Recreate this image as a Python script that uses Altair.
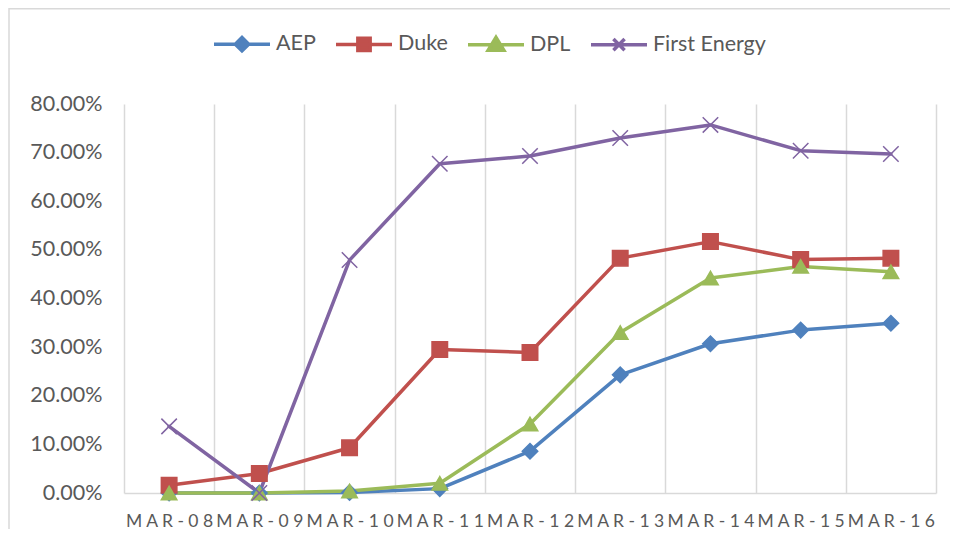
import altair as alt
import pandas as pd

dates = ["MAR-08", "MAR-09", "MAR-10", "MAR-11", "MAR-12", "MAR-13", "MAR-14", "MAR-15", "MAR-16"]
series_names = ["AEP", "Duke", "DPL", "First Energy"]
aep = [0.0, 0.0, 0.001, 0.009, 0.086, 0.243, 0.307, 0.335, 0.349]
duke = [0.016, 0.040, 0.093, 0.295, 0.289, 0.483, 0.517, 0.480, 0.483]
dpl = [0.0, 0.0, 0.004, 0.020, 0.142, 0.330, 0.442, 0.466, 0.455]
first_energy = [0.137, 0.0, 0.479, 0.677, 0.693, 0.730, 0.757, 0.704, 0.697]
colors = ["#4F81BD", "#C0504D", "#9BBB59", "#8064A2"]
y_ticks = [0.0, 0.1, 0.2, 0.3, 0.4, 0.5, 0.6, 0.7, 0.8]

rows = []
for name, vals in zip(series_names, [aep, duke, dpl, first_energy]):
    for i, (d, v) in enumerate(zip(dates, vals)):
        rows.append({"series": name, "date": d, "idx": i, "value": v})
df = pd.DataFrame(rows)

spaced = [" ".join(d) for d in dates]
lab_array = "[" + ",".join("'%s'" % s for s in spaced) + "]"
x_values = [i * 0.5 - 0.5 for i in range(2 * len(dates) + 1)]

marker_shapes = ["diamond", "square", "triangle-up", "M-1,-1L1,1M-1,1L1,-1"]
legend_shapes = [
    "M-1,0H1M0,-0.24L0.24,0L0,0.24L-0.24,0Z",
    "M-1,0H1M-0.22,-0.22H0.22V0.22H-0.22Z",
    "M-1,0H1M0,-0.26L0.28,0.2L-0.28,0.2Z",
    "M-1,0H1M-0.2,-0.2L0.2,0.2M-0.2,0.2L0.2,-0.2",
]

color_scale = alt.Scale(domain=series_names, range=colors)

x_enc = alt.X(
    "idx:Q",
    scale=alt.Scale(domain=[-0.5, len(dates) - 0.5], nice=False, zero=False),
    axis=alt.Axis(
        values=x_values,
        labelExpr="datum.value % 1 === 0 ? " + lab_array + "[datum.value] : ''",
        title=None,
        ticks=False,
        grid=True,
        gridColor={"condition": {"test": "datum.value % 1 === 0", "value": "transparent"}, "value": "#d9d9d9"},
        gridWidth=1.5,
        domainColor="#d9d9d9",
        domainWidth=1.5,
        labelFont="Lato",
        labelFontSize=17.5,
        labelColor="#595959",
        labelPadding=19,
        labelOverlap=False,
        labelFlush=False,
    ),
)
y_enc = alt.Y(
    "value:Q",
    scale=alt.Scale(domain=[0, 0.8], nice=False, zero=True),
    axis=alt.Axis(
        values=y_ticks,
        format=".2%",
        title=None,
        grid=False,
        domain=False,
        ticks=False,
        labelFont="Lato",
        labelFontSize=21.5,
        labelColor="#595959",
        labelPadding=22,
    ),
)

color_enc = alt.Color("series:N", scale=color_scale, legend=None)
base = alt.Chart(df).encode(x=x_enc, y=y_enc)

border = alt.Chart(pd.DataFrame({"k": [0]})).mark_rect(
    fill="transparent", stroke="#d9d9d9", strokeWidth=1.5
).encode(x=alt.value(-115), x2=alt.value(1000), y=alt.value(-95.25), y2=alt.value(600))

lines = base.mark_line(strokeWidth=3.5, strokeJoin="round", strokeCap="round").encode(color=color_enc)

points = base.mark_point(filled=True, size=240, strokeWidth=1.5, opacity=1).encode(
    color=color_enc,
    stroke=alt.Stroke("series:N", scale=color_scale, legend=None),
    shape=alt.Shape("series:N", scale=alt.Scale(domain=series_names, range=marker_shapes), legend=None),
)

legend_layer = base.mark_point(filled=True, opacity=0).encode(
    color=color_enc,
    shape=alt.Shape(
        "series:N",
        scale=alt.Scale(domain=series_names, range=legend_shapes),
        legend=alt.Legend(
            title=None,
            orient="none",
            legendX=88,
            legendY=-90,
            direction="horizontal",
            symbolSize=3136,
            symbolStrokeWidth=3.5,
            symbolOpacity=1,
            symbolFillColor=alt.ExprRef(expr="scale('color', datum.value)"),
            symbolStrokeColor=alt.ExprRef(expr="scale('color', datum.value)"),
            labelFont="Lato",
            labelFontSize=21.5,
            labelColor="#595959",
            labelOffset=4,
            columnPadding=13,
            padding=0,
        ),
    ),
)

chart = (
    alt.layer(border, lines, points, legend_layer)
    .resolve_scale(shape="independent")
    .properties(
        width=812,
        height=389,
        padding={"left": 116, "top": 96, "right": 14, "bottom": 36},
        autosize=alt.AutoSizeParams(type="none"),
        background="white",
    )
    .configure_view(strokeWidth=0)
)

chart.save("out.html", embed_options={"renderer": "svg", "actions": False})
